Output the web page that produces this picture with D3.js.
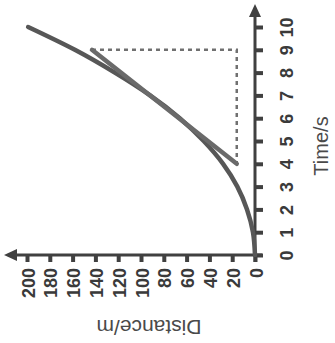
<!DOCTYPE html>
<html><head><meta charset="utf-8">
<script src="https://cdn.jsdelivr.net/npm/d3@7"></script>
<style>body{margin:0;background:#fff} svg{display:block}</style>
</head><body><svg id="c" width="335" height="343"></svg>
<script>
const timeTicks = [0,1,2,3,4,5,6,7,8,9,10];
const distTicks = [0,20,40,60,80,100,120,140,160,180,200];
const curveTime = [0,1,2,3,4,5,6,7,8,9,10];
const curveDist = [0,1.8,7,15.5,28,45,66,92,123,158,199];
const tangentTime = [4,9];
const tangentDist = [16,143];
const timeTitle = "Time/s";
const distTitle = "Distance/m";

const svg = d3.select("#c");
const y = d3.scaleLinear().domain([0,10]).range([255,27]);
const x = d3.scaleLinear().domain([0,200]).range([255,27]);
const axisColor = "#404040";
const font = "'Liberation Sans', Arial, sans-serif";

// axis lines with arrowheads
const ox = x(0), oy = y(0);
svg.append("line").attr("x1",ox).attr("y1",oy+7).attr("x2",ox).attr("y2",14)
  .attr("stroke",axisColor).attr("stroke-width",3);
svg.append("path").attr("d",`M${ox},4L${ox-6},17L${ox+6},17Z`).attr("fill",axisColor);
svg.append("line").attr("x1",ox+7).attr("y1",oy).attr("x2",14).attr("y2",oy)
  .attr("stroke",axisColor).attr("stroke-width",3);
svg.append("path").attr("d",`M4,${oy}L17,${oy-6}L17,${oy+6}Z`).attr("fill",axisColor);

// time axis ticks
const gT = svg.append("g").attr("transform",`translate(${ox},0)`)
  .call(d3.axisRight(y).tickValues(timeTicks).tickSize(8).tickFormat(d3.format("d")));
gT.select(".domain").remove();
gT.selectAll(".tick line").attr("stroke",axisColor).attr("stroke-width",4);
gT.selectAll(".tick text").attr("x",0).attr("dy",null).attr("y",0)
  .attr("transform","translate(38,0) rotate(-90)").attr("text-anchor","middle")
  .attr("fill","#3a3a3a").style("font-family",font).style("font-size","18px").style("font-weight","bold");

// distance axis ticks
const gD = svg.append("g").attr("transform",`translate(0,${oy})`)
  .call(d3.axisBottom(x).tickValues(distTicks).tickSize(7).tickFormat(d3.format("d")));
gD.select(".domain").remove();
gD.selectAll(".tick line").attr("stroke",axisColor).attr("stroke-width",4);
gD.selectAll(".tick text").attr("x",0).attr("y",0).attr("dy",null)
  .attr("transform","translate(7,13) rotate(-90)").attr("text-anchor","end")
  .attr("fill","#3a3a3a").style("font-family",font).style("font-size","18px").style("font-weight","bold");

// titles
svg.append("text").attr("transform","translate(328,146) rotate(-90)").attr("text-anchor","middle")
  .attr("fill","#4a4a4a").style("font-family",font).style("font-size","20px").text(timeTitle);
svg.append("text").attr("transform","translate(149,320) rotate(180)").attr("text-anchor","middle")
  .attr("fill","#4a4a4a").style("font-family",font).style("font-size","21px").text(distTitle);

// dashed triangle
svg.append("path")
  .attr("d",`M${x(tangentDist[1])},${y(tangentTime[1])}L${x(tangentDist[0])},${y(tangentTime[1])}L${x(tangentDist[0])},${y(tangentTime[0])}`)
  .attr("fill","none").attr("stroke","#707070").attr("stroke-width",2.5).attr("stroke-dasharray","4,4");

// curve
const pts = curveTime.map((t,i)=>({t, d: curveDist[i]}));
svg.append("path").datum(pts)
  .attr("d", d3.line().x(p=>x(p.d)).y(p=>y(p.t)).curve(d3.curveMonotoneY))
  .attr("fill","none").attr("stroke","#575757").attr("stroke-width",4.5).attr("stroke-linecap","round");

// tangent
svg.append("line")
  .attr("x1",x(tangentDist[0])).attr("y1",y(tangentTime[0]))
  .attr("x2",x(tangentDist[1])).attr("y2",y(tangentTime[1]))
  .attr("stroke","#6a6a6a").attr("stroke-width",4.5).attr("stroke-linecap","round");
</script></body></html>
